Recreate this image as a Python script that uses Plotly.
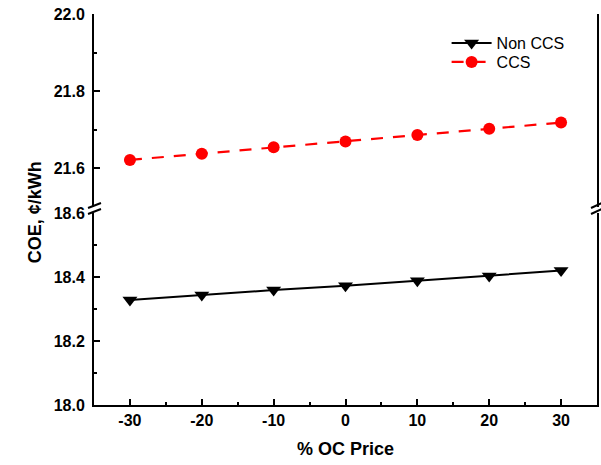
import plotly.graph_objects as go

oc_price = [-30, -20, -10, 0, 10, 20, 30]
non_ccs = [18.328, 18.344, 18.359, 18.373, 18.388, 18.403, 18.42]
ccs = [21.621, 21.637, 21.654, 21.669, 21.686, 21.702, 21.718]
x_ticks = [-30, -20, -10, 0, 10, 20, 30]
low_ticks = [18.0, 18.2, 18.4, 18.6]
high_ticks = [21.6, 21.8, 22.0]

FONT = "Liberation Sans, Arial, sans-serif"
W, H = 601, 465
L, R, T, B = 94, 2, 14, 60
PW, PH = W - L - R, H - T - B

def py2paper(py):
    return (H - B - py) / PH

def px2paper(px):
    return (px - L) / PW

low_dom = [0, py2paper(213)]
high_dom = [py2paper(206.5), 1]

fig = go.Figure()
fig.add_trace(go.Scatter(
    x=oc_price, y=non_ccs, name="Non CCS", mode="lines+markers",
    line=dict(color="black", width=2),
    marker=dict(symbol="triangle-down", size=13, color="black"),
    xaxis="x", yaxis="y", legend="legend"))
fig.add_trace(go.Scatter(
    x=oc_price, y=ccs, name="CCS", mode="lines+markers",
    line=dict(color="#ff0000", width=2.2, dash="12px,10px"),
    marker=dict(symbol="circle", size=12, color="#ff0000"),
    xaxis="x", yaxis="y2", legend="legend2"))

axfont = dict(family=FONT, size=16, color="black", weight="bold")
common_y = dict(showline=True, linecolor="black", linewidth=2, mirror=True,
                ticks="inside", ticklen=6, tickwidth=2, tickcolor="black",
                showgrid=False, zeroline=False, tickfont=axfont,
                tickformat=".1f", ticklabelstandoff=4,
                minor=dict(ticks="inside", ticklen=3, tickwidth=2, tickcolor="black", dtick=0.1))

legfont = dict(family=FONT, size=16, color="black")
leg_common = dict(xanchor="left", yanchor="middle", bgcolor="rgba(0,0,0,0)",
                  font=legfont, itemwidth=40, borderwidth=0)

fig.update_layout(
    width=W, height=H,
    margin=dict(l=L, r=R, t=T, b=B),
    paper_bgcolor="white", plot_bgcolor="white",
    showlegend=True,
    legend=dict(x=px2paper(448), y=py2paper(43), **leg_common),
    legend2=dict(x=px2paper(448), y=py2paper(62), **leg_common),
    xaxis=dict(domain=[0, 1], range=[-35, 35], anchor="y",
               tickvals=x_ticks, ticktext=[str(v) for v in x_ticks],
               showline=True, linecolor="black", linewidth=2,
               ticks="inside", ticklen=6, tickwidth=2, tickcolor="black",
               showgrid=False, zeroline=False, tickfont=axfont,
               minor=dict(ticks="inside", ticklen=3, tickwidth=2, tickcolor="black",
                          tickvals=[-25, -15, -5, 5, 15, 25]),
               title=dict(text="% OC Price", font=dict(family=FONT, size=18, color="black", weight="bold"),
                          standoff=14)),
    xaxis2=dict(domain=[0, 1], range=[-35, 35], anchor="y2", matches="x", side="top",
                showline=True, linecolor="black", linewidth=2, showticklabels=False,
                ticks="", showgrid=False, zeroline=False),
    yaxis=dict(domain=low_dom, range=[18.0, 18.6], anchor="x", tickvals=low_ticks, **common_y),
    yaxis2=dict(domain=high_dom, range=[21.5, 22.0], anchor="x2", tickvals=high_ticks, **common_y),
)

fig.add_annotation(text="<b>COE, ¢/kWh</b>", textangle=-90, xref="paper", yref="paper",
                   x=px2paper(35), y=py2paper(212), xanchor="center", yanchor="middle",
                   showarrow=False, font=dict(family=FONT, size=18, color="black"))

# axis break marks
for x0, x1 in [(88, 101), (593, 604)]:
    for dy in (0, 6):
        fig.add_shape(type="line", xref="paper", yref="paper",
                      x0=px2paper(x0), x1=px2paper(x1),
                      y0=py2paper(208 + dy), y1=py2paper(203 + dy),
                      line=dict(color="black", width=2))

fig.write_html("out.html")
